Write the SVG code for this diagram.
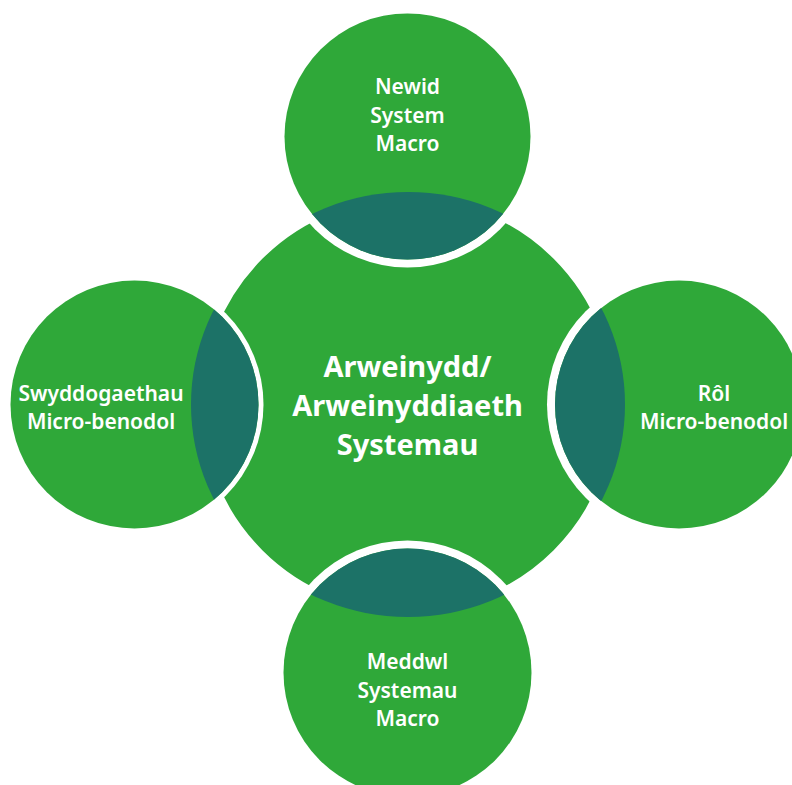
<svg xmlns="http://www.w3.org/2000/svg" width="792" height="785" viewBox="0 0 792 785">
  <defs>
    <style>
      .g { fill: #2FA839; }
      .w { fill: #FFFFFF; }
      .lens { fill: #1C7267; }
      .t { fill: #FFFFFF; font-family: "Noto Sans", "Open Sans", sans-serif; font-weight: 600; font-size: 21px; text-anchor: middle; }
      .tc { fill: #FFFFFF; font-family: "Noto Sans", "Open Sans", sans-serif; font-weight: 700; font-size: 29px; text-anchor: middle; }
    </style>
    <clipPath id="cC">
      <ellipse cx="408" cy="404.5" rx="217" ry="212.5"/>
    </clipPath>
  </defs>
  <rect width="792" height="785" fill="#FFFFFF"/>

  <g id="center">
    <circle cx="408" cy="404.5" r="212" class="g" stroke="#FFFFFF" stroke-width="12"/>
  </g>

  <g id="top">
    <circle cx="407.5" cy="136.5" r="131" class="w"/>
    <circle cx="407.5" cy="136.5" r="123" class="g"/>
    <circle cx="407.5" cy="136.5" r="123" class="lens" clip-path="url(#cC)"/>
    <text class="t" x="407.5" y="94">Newid</text>
    <text class="t" x="407.5" y="122.5">System</text>
    <text class="t" x="407.5" y="151">Macro</text>
  </g>

  <g id="bottom">
    <circle cx="407.5" cy="672.5" r="132" class="w"/>
    <circle cx="407.5" cy="672.5" r="124" class="g"/>
    <circle cx="407.5" cy="672.5" r="124" class="lens" clip-path="url(#cC)"/>
    <text class="t" x="407.5" y="669">Meddwl</text>
    <text class="t" x="407.5" y="697.5">Systemau</text>
    <text class="t" x="407.5" y="726">Macro</text>
  </g>

  <g id="left">
    <circle cx="134.5" cy="404.5" r="129" class="w"/>
    <circle cx="134.5" cy="404.5" r="124" class="g"/>
    <circle cx="134.5" cy="404.5" r="124" class="lens" clip-path="url(#cC)"/>
    <text class="t" x="101" y="400.5">Swyddogaethau</text>
    <text class="t" x="101" y="429">Micro-benodol</text>
  </g>

  <g id="right">
    <circle cx="679" cy="404.5" r="132" class="w"/>
    <circle cx="679" cy="404.5" r="124" class="g"/>
    <circle cx="679" cy="404.5" r="124" class="lens" clip-path="url(#cC)"/>
    <text class="t" x="714" y="400.5">Rôl</text>
    <text class="t" x="714" y="429">Micro-benodol</text>
  </g>

  <g id="center-label">
    <text class="tc" x="407.5" y="377">Arweinydd/</text>
    <text class="tc" x="407.5" y="416">Arweinyddiaeth</text>
    <text class="tc" x="407.5" y="455">Systemau</text>
  </g>

  <g id="connectors"></g>
</svg>
